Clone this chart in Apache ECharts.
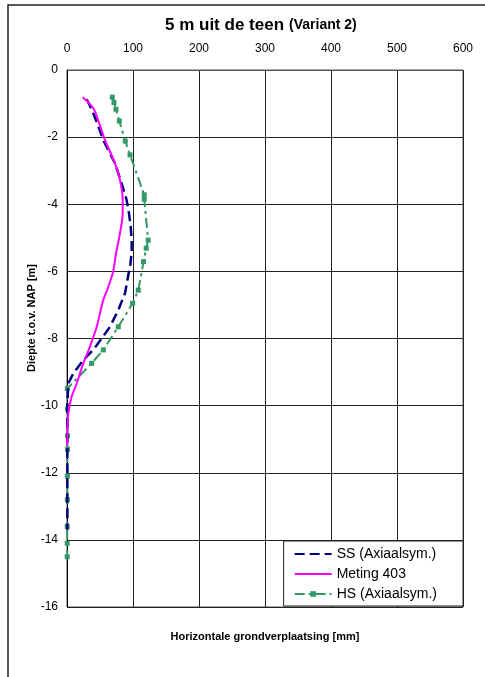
<!DOCTYPE html>
<html>
<head>
<meta charset="utf-8">
<script src="https://cdn.jsdelivr.net/npm/echarts@6/dist/echarts.min.js"></script>
<style>
  html, body { margin: 0; padding: 0; background: #fff; }
  #chart { width: 485px; height: 677px; }
</style>
</head>
<body>
<div id="chart"></div>
<script>
// Horizontal ground displacement [mm] against depth [m NAP]

const xTicks = [0, 100, 200, 300, 400, 500, 600];
const yTicks = [0, -2, -4, -6, -8, -10, -12, -14, -16];

// SS (Axiaalsym.)
const ssDepth = [-0.87, -1.2, -1.6, -2.09, -2.78, -3.38, -3.87, -4.27, -4.67, -5.07, -5.4, -5.8,
  -6.11, -6.65, -7.15, -7.65, -8.0, -8.34, -8.64, -9.04, -9.34, -9.93, -10.5, -11.2, -12.0, -12.8, -13.7];
const ssDisp = [29.8, 38, 46, 55, 72.7, 82.8, 90.3, 93.9, 96.5, 98, 98, 96,
  92.9, 87.9, 77.7, 65.2, 52.5, 39.8, 24.7, 9.5, 2, 0.5, 0.5, 0.5, 0.5, 0.5, 0.5];

// Meting 403
const metDepth = [-0.81, -1.14, -1.6, -2.09, -2.78, -3.28, -3.87, -4.26, -4.86, -5.5, -6.0, -6.46,
  -6.85, -7.65, -8.24, -8.74, -9.34, -9.73, -10.23, -10.93, -11.2];
const metDisp = [23.8, 39.8, 49, 57.6, 72.7, 80.3, 84.4, 84.4, 80.3, 74, 70, 62.6,
  55, 45, 34.8, 24.7, 14.7, 7.1, 2, 0.5, 0.3];

// HS (Axiaalsym.)
const hsDepth = [-0.81, -0.97, -1.17, -1.52, -2.12, -2.53, -3.72, -3.85, -5.07, -5.31, -5.71, -6.56,
  -6.95, -7.65, -8.34, -8.74, -9.49, -10.1, -10.9, -11.3, -12.1, -12.8, -13.6, -14.1, -14.5];
const hsDisp = [68.6, 71.2, 74.2, 79.3, 88.3, 95.5, 117, 117, 123, 120, 116, 108,
  99.5, 77.7, 55, 37.4, 0.5, 0.8, 0.8, 0.8, 0.5, 0.5, 0.3, 0.3, 0.3];

const zip = (xs, ys) => xs.map((x, i) => [x, ys[i]]);

const chart = echarts.init(document.getElementById('chart'), null, { renderer: 'canvas' });
const font = 'Liberation Sans, Arial, sans-serif';

chart.setOption({
  animation: false,
  backgroundColor: '#fff',
  textStyle: { fontFamily: font },
  title: {
    text: '{a|5 m uit de teen} {b|(Variant 2)}',
    left: 160,
    top: 11,
    textStyle: {
      rich: {
        a: { fontSize: 17, fontWeight: 'bold', color: '#000', fontFamily: font },
        b: { fontSize: 14, fontWeight: 'bold', color: '#000', fontFamily: font }
      }
    }
  },
  grid: {
    left: 67, right: 22, top: 70, bottom: 70,
    show: true, borderColor: '#555', borderWidth: 1, backgroundColor: '#fff'
  },
  xAxis: {
    type: 'value',
    position: 'top',
    min: xTicks[0], max: xTicks[xTicks.length - 1], interval: 100,
    name: 'Horizontale grondverplaatsing [mm]',
    nameLocation: 'middle',
    nameGap: -572,
    nameTextStyle: { fontSize: 11, fontWeight: 'bold', color: '#000', fontFamily: font },
    axisLine: { show: true, lineStyle: { color: '#555', width: 1 } },
    axisTick: { show: false },
    axisLabel: { color: '#000', fontSize: 12, margin: 15, fontFamily: font },
    splitLine: { show: true, lineStyle: { color: '#222', width: 1 } }
  },
  yAxis: {
    type: 'value',
    min: yTicks[yTicks.length - 1], max: yTicks[0], interval: 2,
    axisLine: { show: true, onZero: false, lineStyle: { color: '#000', width: 1 } },
    axisTick: { show: false },
    axisLabel: { color: '#000', fontSize: 12, margin: 9, fontFamily: font },
    splitLine: { show: true, lineStyle: { color: '#222', width: 1 } }
  },
  legend: {
    orient: 'vertical',
    right: 22,
    bottom: 71,
    itemWidth: 37,
    itemHeight: 7,
    itemGap: 6,
    padding: [6, 26, 5, 10],
    backgroundColor: '#fff',
    borderColor: '#222',
    borderWidth: 1,
    borderRadius: 0,
    textStyle: { fontSize: 14, color: '#000', fontFamily: font },
    data: [
      { name: 'SS (Axiaalsym.)', itemStyle: { opacity: 0 } },
      { name: 'Meting 403', itemStyle: { opacity: 0 } },
      { name: 'HS (Axiaalsym.)' }
    ]
  },
  graphic: [
    {
      type: 'rect',
      shape: { x: 8, y: 5, width: 520, height: 720 },
      style: { fill: 'none', stroke: '#222', lineWidth: 1.5 },
      silent: true, z: 100
    },
    {
      type: 'text',
      x: 32, y: 318,
      rotation: Math.PI / 2,
      style: {
        text: 'Diepte t.o.v. NAP [m]',
        font: 'bold 11px ' + font,
        fill: '#000',
        align: 'center',
        verticalAlign: 'middle'
      }
    }
  ],
  series: [
    {
      name: 'SS (Axiaalsym.)',
      type: 'line',
      data: zip(ssDisp, ssDepth),
      showSymbol: false,
      symbol: 'none',
      lineStyle: { color: '#000080', width: 2.5, type: [10, 5] },
      itemStyle: { color: '#000080' },
      z: 3
    },
    {
      name: 'Meting 403',
      type: 'line',
      data: zip(metDisp, metDepth),
      smooth: 0.3,
      showSymbol: false,
      symbol: 'none',
      lineStyle: { color: '#ff00ff', width: 2 },
      itemStyle: { color: '#ff00ff' },
      z: 4
    },
    {
      name: 'HS (Axiaalsym.)',
      type: 'line',
      data: zip(hsDisp, hsDepth),
      symbol: 'rect',
      symbolSize: 5,
      lineStyle: { color: '#339966', width: 2, type: [10, 4, 3, 4] },
      itemStyle: { color: '#339966', borderWidth: 0 },
      z: 2
    }
  ]
});
</script>
</body>
</html>
